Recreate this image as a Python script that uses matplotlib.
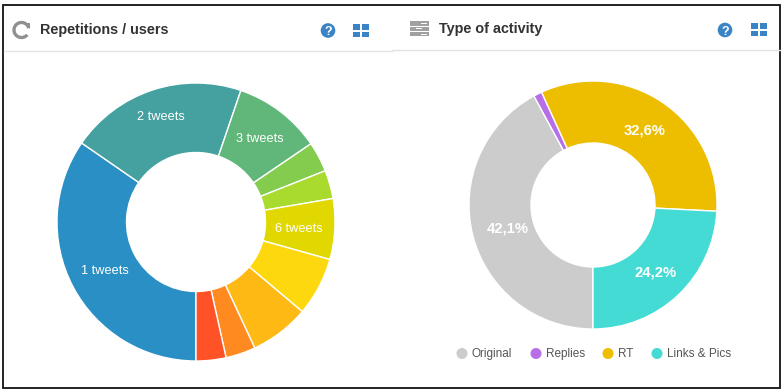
import math
import matplotlib
matplotlib.use("Agg")
import matplotlib.pyplot as plt
from matplotlib.patches import Rectangle, Circle, Arc

rep_labels = ["1 tweets", "2 tweets", "3 tweets", "", "", "6 tweets", "", "", "", ""]
rep_values = [34.6, 20.6, 10.25, 3.5, 3.3, 7.05, 6.8, 6.9, 3.47, 3.47]
rep_colors = ["#2a8fc4", "#44a1a0", "#61b67a", "#84cc4e", "#a8db2e", "#e0d800", "#fdd80e", "#ffb914", "#ff8a1f", "#ff5226"]
act_labels = ["Original", "Replies", "RT", "Links & Pics"]
act_values = [42.1, 1.1, 32.6, 24.2]
act_text = ["42,1%", "", "32,6%", "24,2%"]
act_colors = ["#cccccc", "#b76fe8", "#edbd00", "#43dbd3"]

W, H = 784, 392
plt.rcParams["font.family"] = ["Liberation Sans", "DejaVu Sans"]
fig = plt.figure(figsize=(W/100, H/100), dpi=100, facecolor="white")
bg = fig.add_axes([0, 0, 1, 1])
bg.set_xlim(0, W); bg.set_ylim(H, 0); bg.axis("off")

def donut(cx, cy, r, inner, vals, cols, start, labels, fs, bold, radial):
    ax = fig.add_axes([(cx-r-2)/W, 1-(cy+r+2)/H, (2*r+4)/W, (2*r+4)/H])
    scale = r/(r+2)
    ax.pie(vals, colors=cols, startangle=start, counterclock=False, radius=1,
           wedgeprops=dict(width=1-inner/r, edgecolor="white", linewidth=1))
    ax.set_xlim(-1/scale, 1/scale); ax.set_ylim(-1/scale, 1/scale)
    total = sum(vals); a = start
    for v, l, m in zip(vals, labels, radial):
        t = a - v/total*360/2
        a -= v/total*360
        if l:
            ax.text(m*math.cos(math.radians(t)), m*math.sin(math.radians(t)), l,
                    color="white", ha="center", va="center_baseline", fontsize=fs,
                    fontweight="bold" if bold else "normal")

donut(196, 222, 139, 69.5, rep_values, rep_colors, -90, rep_labels, 9.2, False,
      [0.74, 0.81, 0.76, 0, 0, 0.74, 0, 0, 0, 0])
donut(593, 205, 124, 62, act_values, act_colors, -90, act_text, 10.7, True,
      [0.71, 0, 0.74, 0.73])

# frame and header rules
bg.add_patch(Rectangle((3.5, 4.5), 776.5, 383.5, fill=False, ec="#111111", lw=1.3))
bg.plot([4, 392], [50.5, 50.5], color="#e3e3e3", lw=1)
bg.plot([392, 780], [49.5, 49.5], color="#e3e3e3", lw=1)

bg.text(40, 34, "Repetitions / users", fontsize=10.4, fontweight="bold", color="#333333", va="baseline")
bg.text(439, 33, "Type of activity", fontsize=10.4, fontweight="bold", color="#333333", va="baseline")

# header icons
bg.add_patch(Arc((21.5, 30), 15, 15, theta1=40, theta2=345, color="#909090", lw=2.4))
bg.fill([24, 30, 30], [22.5, 22.5, 29], color="#909090", lw=0)
for y, h, sx in ((21, 4.5, 421), (26.5, 4.5, 416), (32, 4, 421)):
    bg.add_patch(Rectangle((410, y), 19, h, fc="#a0a0a0", ec="none"))
    bg.add_patch(Rectangle((sx, y+1.5), 6, 1.2, fc="white", ec="none"))
for qx, gx, qy, gy in ((328, 353, 30.5, 24), (725, 751, 30, 23)):
    bg.add_patch(Circle((qx, qy), 7.3, fc="#3a83c4", ec="none"))
    bg.text(qx, qy, "?", color="white", fontsize=9, fontweight="bold", ha="center", va="center_baseline")
    for dx in (0, 9):
        for dy in (0, 7.5):
            bg.add_patch(Rectangle((gx+dx, gy+dy), 7.5, 5.5, fc="#3a83c4", ec="none"))

# legend
lx = [462, 536, 608, 657]
tx = [472, 546, 618, 667]
for x, t, lab, c in zip(lx, tx, act_labels, act_colors):
    bg.add_patch(Circle((x, 353.5), 5.5, fc=c, ec="none"))
    bg.text(t, 357.2, lab, fontsize=8.5, color="#555555", va="baseline")

fig.savefig("out.png", dpi=100, facecolor="white")
